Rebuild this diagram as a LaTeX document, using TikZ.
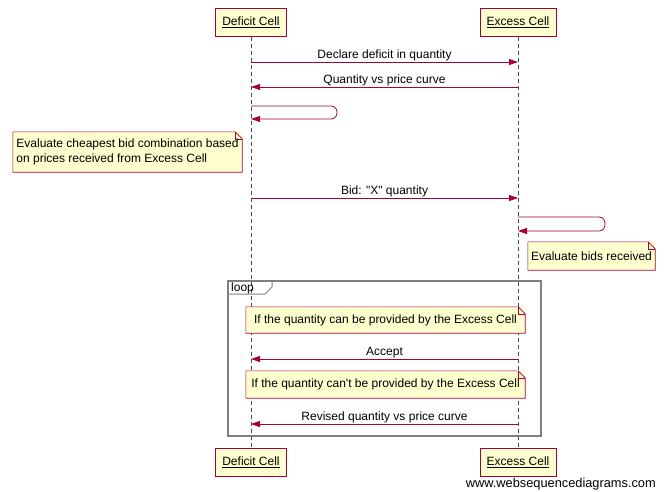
\documentclass[tikz,border=0pt]{standalone}
\usepackage{fontspec}
\newfontfamily\wsdfont{Liberation Sans}
\usetikzlibrary{arrows.meta}
\definecolor{wsdred}{HTML}{A80036}
\definecolor{wsdfill}{HTML}{FEFECE}
\definecolor{wsdgray}{HTML}{808080}
\tikzset{
  actor/.style={draw=wsdred, fill=wsdfill, line width=1pt, minimum width=71pt, minimum height=28pt, inner sep=0pt, font=\wsdfont\fontsize{12}{14}\selectfont},
  notebox/.style={fill=wsdfill, inner sep=0pt, font=\wsdfont\fontsize{12}{14.5}\selectfont},
  noteline/.style={draw=wsdred, line width=0.6pt},
  lifeline/.style={draw=black!70, dashed, dash pattern=on 4pt off 3pt, line width=0.6pt},
  msg/.style={draw=wsdred, line width=0.8pt, -{Triangle[length=9pt,width=6pt]}},
  lbl/.style={font=\wsdfont\fontsize{12}{14}\selectfont, anchor=south, inner sep=1pt},
}
\newcommand{\notefold}[1]{%
  \draw[noteline] (#1.south west) -- (#1.north west) -- ([xshift=-7pt]#1.north east) -- ([yshift=-7pt]#1.north east) -- (#1.south east) -- cycle;
  \draw[noteline] ([xshift=-7pt]#1.north east) |- ([yshift=-7pt]#1.north east);
}
\begin{document}
\begin{tikzpicture}[x=1pt,y=-1pt]
\useasboundingbox (0,0) rectangle (666,491);
% actors
\node[actor] (dtop) at (251,22) {\underline{Deficit Cell}};
\node[actor, minimum width=76pt] (etop) at (518,22) {\underline{Excess Cell}};
\node[actor] (dbot) at (251,462) {\underline{Deficit Cell}};
\node[actor, minimum width=76pt] (ebot) at (518,462) {\underline{Excess Cell}};
% lifelines
\draw[lifeline] (dtop.south) -- (dbot.north);
\draw[lifeline] (etop.south) -- (ebot.north);
% coordinates on lifelines
\coordinate (d1) at (251,62); \coordinate (e1) at (518,62);
\coordinate (d2) at (251,87); \coordinate (e2) at (518,87);
\coordinate (s1a) at (251,106); \coordinate (s1b) at (251,119);
\coordinate (d3) at (251,198); \coordinate (e3) at (518,198);
\coordinate (s2a) at (518,217); \coordinate (s2b) at (518,231);
\coordinate (d4) at (251,359); \coordinate (e4) at (518,359);
\coordinate (d5) at (251,424); \coordinate (e5) at (518,424);
% messages
\draw[msg] (d1) -- node[lbl] {Declare deficit in quantity} (e1);
\draw[msg] (e2) -- node[lbl] {Quantity vs price curve} (d2);
\draw[msg, rounded corners=6pt] (s1a) -- (337,106) -- (337,119) -- (s1b);
\node[notebox, minimum width=229pt, minimum height=40pt, align=left] (n1) at (127.5,152) {Evaluate cheapest bid combination based\\on prices received from Excess Cell};
\notefold{n1}
\draw[msg] (d3) -- node[lbl] {Bid: "X" quantity} (e3);
\draw[msg, rounded corners=6pt] (s2a) -- (605,217) -- (605,231) -- (s2b);
\node[notebox, minimum width=127pt, minimum height=28pt] (n2) at (591.5,256) {Evaluate bids received};
\notefold{n2}
% loop frame
\draw[draw=wsdgray, line width=1.5pt] (228,281) rectangle (541,436);
\draw[draw=wsdgray, line width=1pt] (228,294) -- (265,294) -- (272,287) -- (272,281);
\node[font=\wsdfont\fontsize{12}{14}\selectfont, anchor=west, inner sep=0pt] (looplbl) at (231,288) {loop};
\node[notebox, minimum width=279pt, minimum height=26pt] (n3) at (385.5,320) {If the quantity can be provided by the Excess Cell};
\notefold{n3}
\draw[msg] (e4) -- node[lbl] {Accept} (d4);
\node[notebox, minimum width=279pt, minimum height=27pt] (n4) at (385.5,384.5) {If the quantity can't be provided by the Excess Cell};
\notefold{n4}
\draw[msg] (e5) -- node[lbl] {Revised quantity vs price curve} (d5);
\node[font=\wsdfont\fontsize{12.8}{14}\selectfont, anchor=east, inner sep=0pt] (wm) at (656,484) {www.websequencediagrams.com};
\end{tikzpicture}
\end{document}
